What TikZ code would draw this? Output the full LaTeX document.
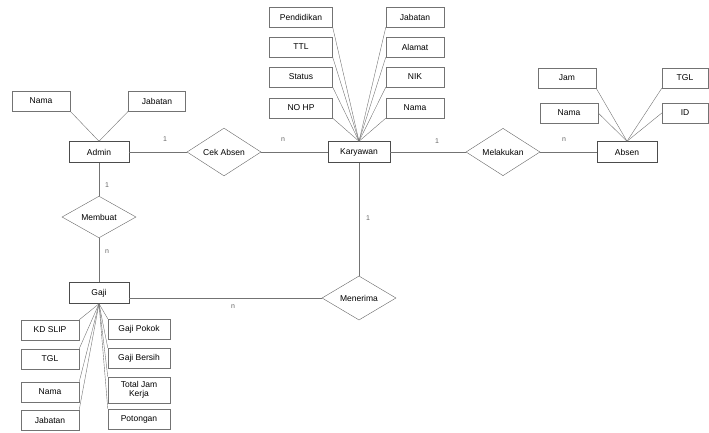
\documentclass[tikz,border=0pt]{standalone}
\usepackage{fontspec}
\setmainfont{Liberation Sans}
\usetikzlibrary{positioning, shapes.geometric}

\begin{document}
\begin{tikzpicture}[x=1pt, y=-1pt,
    ent/.style={draw=black!70, line width=0.5pt, minimum width=60pt, minimum height=21pt, inner sep=1pt, font=\fontsize{8.5}{9.5}\selectfont},
    attr/.style={draw=black!55, line width=0.4pt, minimum width=58pt, minimum height=20pt, inner sep=1pt, align=center, font=\fontsize{8.5}{9.5}\selectfont},
    rel/.style={diamond, draw=black!60, line width=0.4pt, minimum width=74pt, minimum height=29pt, inner sep=0pt, font=\fontsize{8.5}{9.5}\selectfont},
    card/.style={inner sep=0pt, text=black!60, font=\fontsize{7}{8}\selectfont},
    link/.style={draw=black!55, line width=0.4pt}]
    \useasboundingbox (0,0) rectangle (709,432);

    % entitas
    \node[ent] (admin) at (99,152) {Admin};
    \node[ent, minimum width=62pt] (karyawan) at (359,152) {Karyawan};
    \node[ent] (absen) at (627,152) {Absen};
    \node[ent] (gaji) at (99,293) {Gaji};

    % relasi
    \node[rel] (cek) at (224,152) {Cek Absen};
    \node[rel] (melakukan) at (503,152) {Melakukan};
    \node[rel, minimum height=31pt] (membuat) at (99,217) {Membuat};
    \node[rel, minimum height=32pt] (menerima) at (359,298) {Menerima};

    \draw[link] (admin.east) -- (cek.west);
    \draw[link] (cek.east) -- (karyawan.west);
    \draw[link] (karyawan.east) -- (melakukan.west);
    \draw[link] (melakukan.east) -- (absen.west);
    \draw[link] (admin.south) -- (membuat.north);
    \draw[link] (membuat.south) -- (gaji.north);
    \draw[link] (gaji.east |- menerima.west) -- (menerima.west);
    \draw[link] (karyawan.south) -- (menerima.north);

    \node[card] (c1) at (165,139) {1};
    \node[card] (c2) at (283,140) {n};
    \node[card] (c3) at (437,141) {1};
    \node[card] (c4) at (564,140) {n};
    \node[card] (c5) at (107,185) {1};
    \node[card] (c6) at (107,252) {n};
    \node[card] (c7) at (233,307) {n};
    \node[card] (c8) at (368,218) {1};

    % atribut admin
    \node[attr] (anama) at (41,101) {Nama};
    \node[attr, minimum width=57pt] (ajabatan) at (157,101) {Jabatan};
    \draw[link] (anama.south east) -- (admin.north);
    \draw[link] (ajabatan.south west) -- (admin.north);

    % atribut karyawan
    \foreach \n/\t/\y in {pend/Pendidikan/17, ttl/TTL/47, status/Status/77, nohp/NO HP/108} {
        \node[attr, minimum width=63pt] (k\n) at (301,\y) {\t};
        \draw[link] (k\n.south east) -- (karyawan.north);
    }
    \foreach \n/\t/\y in {jabatan/Jabatan/17, alamat/Alamat/47, nik/NIK/77, nama/Nama/108} {
        \node[attr] (k\n) at (415,\y) {\t};
        \draw[link] (k\n.south west) -- (karyawan.north);
    }

    % atribut absen
    \node[attr] (bjam) at (567,78) {Jam};
    \node[attr] (bnama) at (569,113) {Nama};
    \node[attr, minimum width=46pt] (btgl) at (685,78) {TGL};
    \node[attr, minimum width=46pt] (bid) at (685,113) {ID};
    \draw[link] (bjam.south east) -- (absen.north);
    \draw[link] (bnama.east) -- (absen.north);
    \draw[link] (btgl.south west) -- (absen.north);
    \draw[link] (bid.west) -- (absen.north);

    % atribut gaji
    \foreach \n/\t/\y in {slip/KD SLIP/330, tgl/TGL/359, nama/Nama/392, jabatan/Jabatan/420} {
        \node[attr] (g\n) at (50,\y) {\t};
        \draw[link] (g\n.north east) -- (gaji.south);
    }
    \node[attr, minimum width=62pt] (gpokok) at (139,329) {Gaji Pokok};
    \node[attr, minimum width=62pt] (gbersih) at (139,358) {Gaji Bersih};
    \node[attr, minimum width=62pt, minimum height=26pt] (gtotal) at (139,390) {Total Jam\\Kerja};
    \node[attr, minimum width=62pt] (gpotongan) at (139,419) {Potongan};
    \foreach \n in {gpokok, gbersih, gtotal, gpotongan} {
        \draw[link] (\n.north west) -- (gaji.south);
    }
\end{tikzpicture}
\end{document}
